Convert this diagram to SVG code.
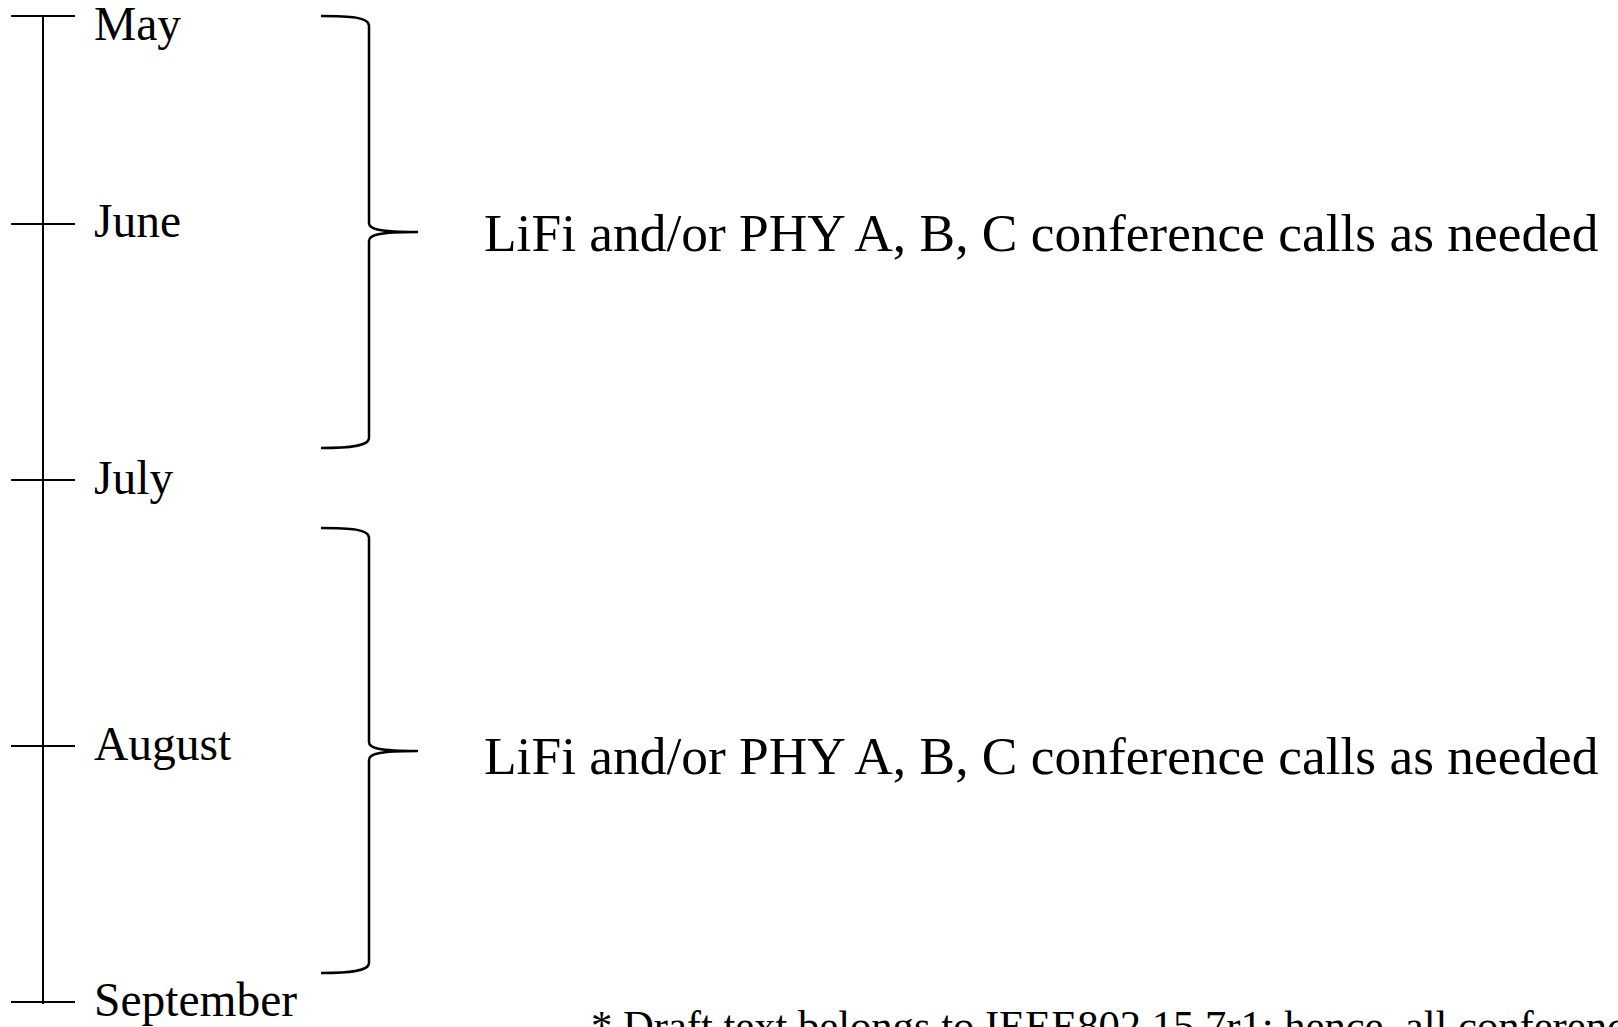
<svg xmlns="http://www.w3.org/2000/svg" width="1618" height="1027" viewBox="0 0 1618 1027">
<style>
.ln{stroke:#000;stroke-width:2;fill:none}
.br{stroke:#000;stroke-width:2.5;fill:none;stroke-linecap:butt}
.mo{font-family:"Liberation Serif","Times New Roman",serif;font-size:47.5px;fill:#000}
.lb{font-family:"Liberation Serif","Times New Roman",serif;font-size:53.4px;fill:#000}
.fn{font-family:"Liberation Serif","Times New Roman",serif;font-size:42.6px;fill:#000}
</style>
<rect width="1618" height="1027" fill="#fff"/>
<g id="connectors">
<line class="ln" x1="43" y1="16" x2="43" y2="1004"/>
<path class="br" d="M321,16 C350,16 369,17 369,26 L369,223 C369,229 378,232 418,232 C378,232 369,235 369,241 L369,438 C369,446 350,448 321,448"/>
<path class="br" d="M321,528 C350,528 369,529 369,538 L369,742 C369,748 378,751 418,751 C378,751 369,754 369,760 L369,963 C369,971 350,973 321,973"/>
</g>
<g id="may"><line class="ln" x1="11" y1="16" x2="75" y2="16"/><text class="mo" x="94" y="40">May</text></g>
<g id="june"><line class="ln" x1="11" y1="224" x2="75" y2="224"/><text class="mo" x="94" y="237">June</text></g>
<g id="july"><line class="ln" x1="11" y1="480" x2="75" y2="480"/><text class="mo" x="94" y="494">July</text></g>
<g id="august"><line class="ln" x1="11" y1="746" x2="75" y2="746"/><text class="mo" x="94" y="760">August</text></g>
<g id="september"><line class="ln" x1="11" y1="1002" x2="75" y2="1002"/><text class="mo" x="94" y="1016">September</text></g>
<g id="label1"><text class="lb" x="484" y="251">LiFi and/or PHY A, B, C conference calls as needed</text></g>
<g id="label2"><text class="lb" x="484" y="774">LiFi and/or PHY A, B, C conference calls as needed</text></g>
<g id="footnote"><text class="fn" x="591" y="1040">* Draft text belongs to IEEE802.15.7r1; hence, all conference</text></g>
</svg>
